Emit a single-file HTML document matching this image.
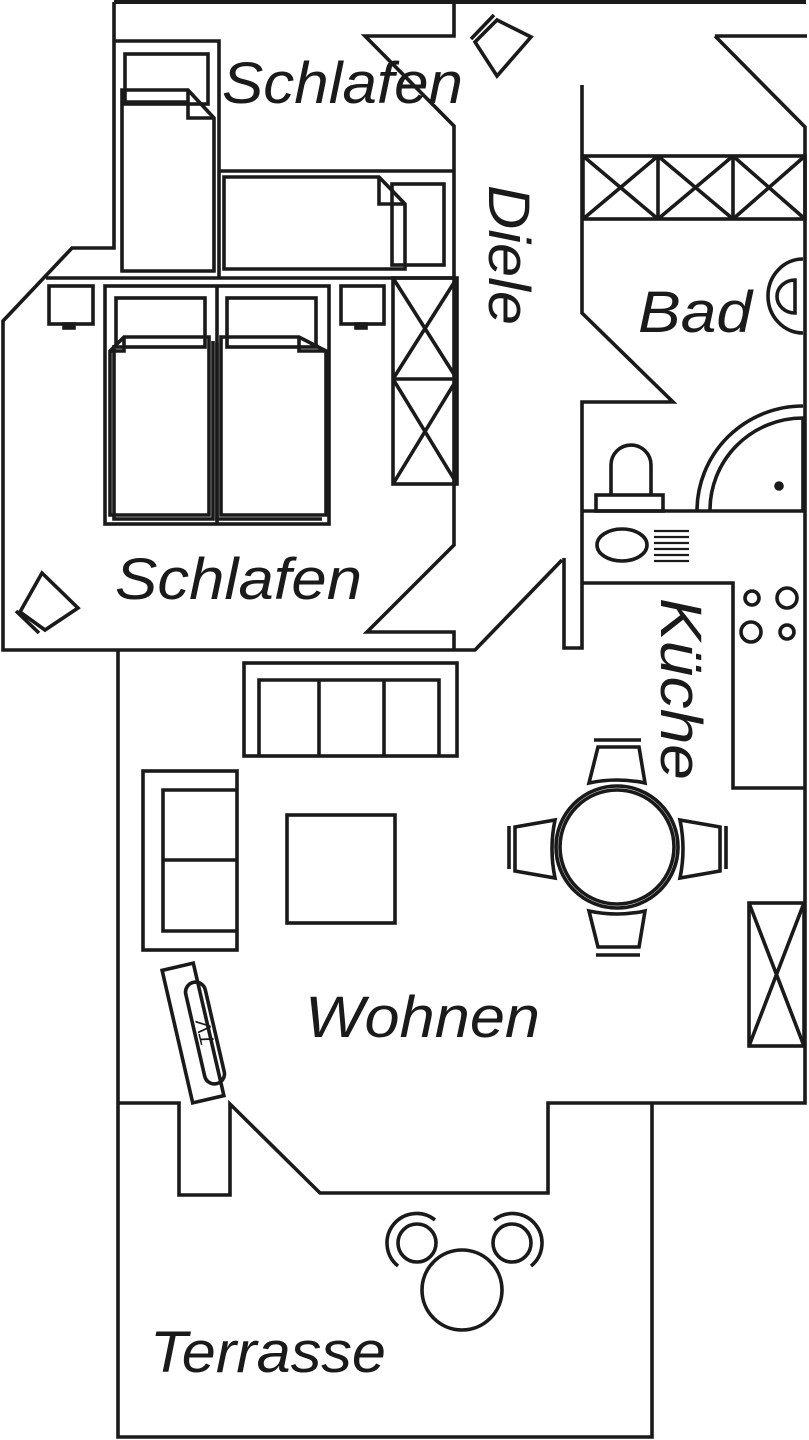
<!DOCTYPE html>
<html><head><meta charset="utf-8"><style>
html,body{margin:0;padding:0;background:#fff;width:809px;height:1440px;overflow:hidden}
svg{display:block}
text{font-family:"Liberation Sans",Arial,sans-serif;font-style:italic;fill:#1a1a1a}
</style></head><body>
<svg width="809" height="1440" viewBox="0 0 809 1440" xmlns="http://www.w3.org/2000/svg">
<g fill="none" stroke="#1a1a1a" stroke-width="3.6" stroke-linejoin="miter">
<polyline points="114,2 806,2" stroke-width="4"/>
<polyline points="114,2 114,248 72,248 3,321 3,650 475,650 562,560"/>
<polyline points="454,2 454,36 365,36 454,126 454,545 367,632 454,632 454,650"/>
<polyline points="715,36 807,36"/>
<polyline points="715,36 805,127 805,1103 548,1103 548,1193 320,1193 230,1104 230,1195 179,1195 179,1103 118,1103"/>
<polyline points="118,650 118,1437 652,1437 652,1103"/>
<polyline points="582,85 582,313 673,402 582,402 582,648 564,648 564,558"/>
<polyline points="582,511 805,511"/>
<polyline points="582,583 733,583 733,788 805,788"/>
<rect x="583" y="156" width="222" height="63"/>
<line x1="658" y1="156" x2="658" y2="219"/><line x1="733" y1="156" x2="733" y2="219"/>
<path d="M583,156 L658,219 M658,156 L583,219 M658,156 L733,219 M733,156 L658,219 M733,156 L805,219 M805,156 L733,219"/>
<path d="M803,259 A35,37 0 0 0 803,333"/>
<path d="M795,280 A18,16.5 0 0 0 795,313 Z"/>
<path d="M697,511 A106,105 0 0 1 803,406"/>
<path d="M710,511 A93,92 0 0 1 803,418 L803,511"/>
<circle cx="779" cy="486" r="3" fill="#1a1a1a"/>
<rect x="596" y="495" width="67" height="16"/>
<path d="M611,495 L611,465 A20,20 0 0 1 651,465 L651,495"/>
<ellipse cx="622" cy="545" rx="25" ry="16"/>
<g stroke-width="2.2"><line x1="654" y1="531" x2="689" y2="531"/><line x1="654" y1="537" x2="689" y2="537"/><line x1="654" y1="543" x2="689" y2="543"/><line x1="654" y1="549" x2="689" y2="549"/><line x1="654" y1="555" x2="689" y2="555"/><line x1="654" y1="561" x2="689" y2="561"/></g>
<circle cx="752" cy="598" r="7"/><circle cx="787" cy="598" r="10"/>
<circle cx="751" cy="632" r="10"/><circle cx="787" cy="632" r="7"/>
<polyline points="114,41 219,41 219,278"/>
<line x1="219" y1="171" x2="454" y2="171"/>
<line x1="46" y1="278" x2="454" y2="278"/>
<rect x="125" y="54" width="83" height="50"/>
<path d="M122,90 L188,90 L214,118 L214,271 L122,271 Z"/>
<path d="M125,102 L188,102 M188,90 L188,118 L214,118"/>
<path d="M224,177 L379,177 L405,204 L405,269 L224,269 Z"/>
<path d="M379,177 L379,204 L405,204"/>
<rect x="392" y="184" width="52" height="81"/>
<rect x="49" y="286" width="44" height="38"/><rect x="64" y="324" width="10" height="4" fill="#1a1a1a"/>
<rect x="341" y="286" width="43" height="38"/><rect x="356" y="324" width="10" height="4" fill="#1a1a1a"/>
<rect x="105" y="286" width="224" height="238"/>
<line x1="217" y1="286" x2="217" y2="524"/>
<rect x="116" y="298" width="89" height="49"/>
<rect x="227" y="298" width="89" height="49"/>
<path d="M124,337 L209,337 L209,515 L110,515 L110,351 Z M124,337 L124,351 L110,351"/>
<path d="M114,345 L114,519 L213,519 L213,341"/>
<path d="M221,337 L299,337 L326,351 L326,515 L221,515 Z M299,337 L299,351 L326,351"/>
<path d="M217,343 L217,519 L322,519"/>
<rect x="393" y="278" width="64" height="206"/>
<line x1="393" y1="379" x2="457" y2="379"/>
<path d="M393,278 L457,379 M457,278 L393,379 M393,379 L457,484 M457,379 L393,484"/>
<polygon points="497,20 531,37 497,76 475,42"/>
<line x1="471" y1="39" x2="494" y2="15"/>
<polygon points="42,573 78,608 45,630 20,612"/>
<line x1="16" y1="611" x2="39" y2="633"/>
<rect x="244" y="663" width="213" height="93"/>
<polyline points="259,756 259,680 439,680 439,756"/>
<line x1="319" y1="680" x2="319" y2="756"/><line x1="384" y1="680" x2="384" y2="756"/>
<rect x="143" y="771" width="94" height="179"/>
<polyline points="237,790 163,790 163,931 237,931"/>
<line x1="163" y1="860" x2="237" y2="860"/>
<rect x="287" y="815" width="108" height="108"/>
<g transform="translate(193,1033) rotate(-13)">
<rect x="-16" y="-68" width="32" height="136"/>
</g>
<g transform="translate(205,1033) rotate(-13)">
<rect x="-10" y="-52" width="20" height="104" rx="10"/>
</g>
<circle cx="617" cy="847" r="61"/>
<circle cx="617" cy="847" r="57"/>
<path d="M598,747 L639,747 L645,783 Q617,777 589,783 Z"/>
<line x1="594" y1="740" x2="641" y2="740"/>
<path d="M589,911 Q617,917 645,911 L639,947 L598,947 Z"/>
<line x1="596" y1="955" x2="640" y2="955"/>
<path d="M515,827 L555,820 Q549,849 555,878 L515,871 Z"/>
<line x1="509" y1="826" x2="509" y2="869"/>
<path d="M680,820 L720,827 L720,871 L680,878 Q686,849 680,820 Z"/>
<line x1="726" y1="826" x2="726" y2="869"/>
<rect x="749" y="903" width="55" height="143"/>
<path d="M749,903 L804,1046 M804,903 L749,1046"/>
<circle cx="462" cy="1290" r="40"/>
<circle cx="417" cy="1243" r="19"/>
<path d="M435,1220 A28,28 0 0 0 398,1266"/>
<circle cx="512" cy="1243" r="19"/>
<path d="M494,1220 A28,28 0 0 1 531,1266"/>
</g>
<text font-size="20" font-style="normal" text-anchor="middle" transform="translate(205,1033) rotate(-103)" x="0" y="7">TV</text>
<text x="222" y="103" font-size="58" textLength="241" lengthAdjust="spacingAndGlyphs">Schlafen</text>
<text x="115" y="599" font-size="58" textLength="247" lengthAdjust="spacingAndGlyphs">Schlafen</text>
<text x="638" y="332" font-size="58" textLength="114" lengthAdjust="spacingAndGlyphs">Bad</text>
<text x="305" y="1037" font-size="58" textLength="235" lengthAdjust="spacingAndGlyphs">Wohnen</text>
<text x="150" y="1372" font-size="58" textLength="236" lengthAdjust="spacingAndGlyphs">Terrasse</text>
<text font-size="58" textLength="140" lengthAdjust="spacingAndGlyphs" transform="translate(489,185) rotate(90)" x="0" y="0">Diele</text>
<text font-size="58" textLength="182" lengthAdjust="spacingAndGlyphs" transform="translate(661,598) rotate(90)" x="0" y="0">Küche</text>
</svg>
</body></html>
